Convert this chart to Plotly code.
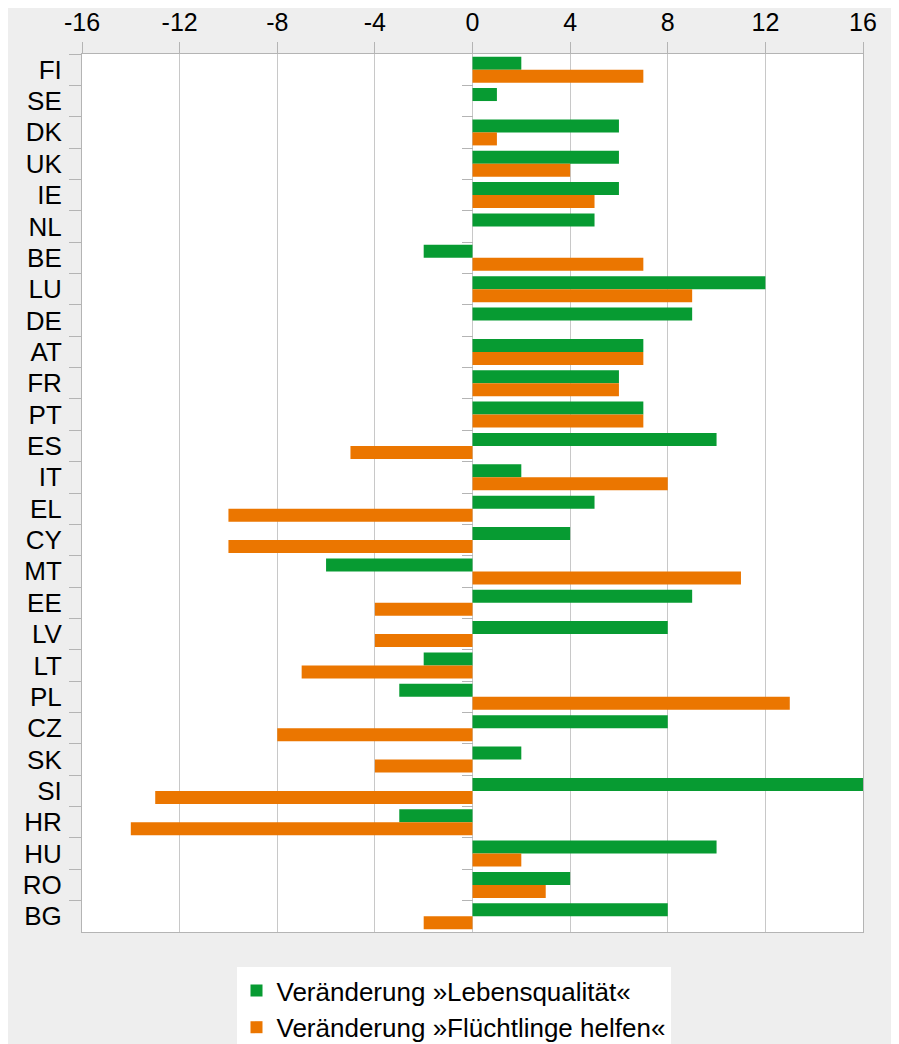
import plotly.graph_objects as go

countries = ["FI", "SE", "DK", "UK", "IE", "NL", "BE", "LU", "DE", "AT", "FR", "PT", "ES", "IT",
             "EL", "CY", "MT", "EE", "LV", "LT", "PL", "CZ", "SK", "SI", "HR", "HU", "RO", "BG"]
lebensqualitaet = [2, 1, 6, 6, 6, 5, -2, 12, 9, 7, 6, 7, 10, 2,
                   5, 4, -6, 9, 8, -2, -3, 8, 2, 16, -3, 10, 4, 8]
fluechtlinge = [7, 0, 1, 4, 5, 0, 7, 9, 0, 7, 6, 7, -5, 8,
                -10, -10, 11, -4, -4, -7, 13, -8, -4, -13, -14, 2, 3, -2]
x_ticks = [-16, -12, -8, -4, 0, 4, 8, 12, 16]
series_names = ["Veränderung »Lebensqualität«", "Veränderung »Flüchtlinge helfen«"]

GREEN = "#079b32"
ORANGE = "#eb7600"
GRID = "#c8c8c8"
LINE = "#b4b4b4"
FONT = "Liberation Sans, Arial, sans-serif"

W, H = 891, 1036
ML, MR, MT, MB = 74, 36, 46, 112
PW, PH = W - ML - MR, H - MT - MB

fig = go.Figure()
fig.add_trace(go.Bar(y=countries, x=lebensqualitaet, orientation="h",
                     name=series_names[0], marker=dict(color=GREEN, line=dict(width=0))))
fig.add_trace(go.Bar(y=countries, x=fluechtlinge, orientation="h",
                     name=series_names[1], marker=dict(color=ORANGE, line=dict(width=0))))

# invisible trace to drive the tick marks on the zero-crossing axis
n = len(countries)
fig.add_trace(go.Scatter(x=[0, 0], y=[-0.5, n - 0.5], yaxis="y2", mode="lines",
                         line=dict(width=0), showlegend=False, hoverinfo="skip"))

fig.update_layout(
    width=W, height=H,
    margin=dict(l=ML, r=MR, t=MT, b=MB, pad=0, autoexpand=False),
    paper_bgcolor="#eeeeee",
    plot_bgcolor="#ffffff",
    barmode="group",
    bargap=0.17,
    bargroupgap=0,
    font=dict(family=FONT, size=26, color="#000000"),
    xaxis=dict(
        side="top", range=[-16, 16], tickvals=x_ticks, ticktext=[str(v) for v in x_ticks],
        showgrid=True, gridcolor=GRID, gridwidth=1, zeroline=False,
        ticks="outside", ticklen=11, tickcolor=LINE, tickwidth=1,
        showline=True, linecolor=LINE, linewidth=1, mirror=True,
        tickfont=dict(size=25), fixedrange=True, tickangle=0, ticklabelstandoff=1,
    ),
    yaxis=dict(
        type="category", categoryorder="array", categoryarray=countries,
        autorange="reversed", showgrid=False, zeroline=False,
        ticks="outside", tickson="boundaries", ticklen=12, tickcolor=LINE, tickwidth=1,
        showline=True, linecolor=LINE, linewidth=1, mirror=True,
        tickfont=dict(size=26), ticklabelstandoff=14,
    ),
    yaxis2=dict(
        overlaying="y", anchor="free", position=0.5, side="left",
        range=[n - 0.5, -0.5], tickvals=[k + 0.5 for k in range(n - 1)],
        showticklabels=False, ticks="outside", ticklen=11, tickcolor=LINE, tickwidth=1,
        showgrid=False, zeroline=False, showline=False,
    ),
    legend=dict(
        orientation="v", xref="paper", yref="paper",
        x=(445.5 - ML) / PW, xanchor="center", y=-(959 - (MT + PH)) / PH, yanchor="top",
        bgcolor="#ffffff", font=dict(size=26, family=FONT),
        traceorder="normal", itemwidth=30, tracegroupgap=0,
    ),
    showlegend=True,
)

fig.write_html("out.html")
